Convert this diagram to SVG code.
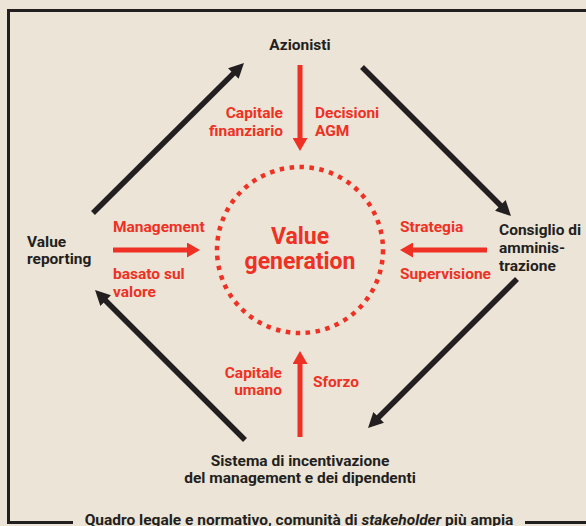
<svg xmlns="http://www.w3.org/2000/svg" width="586" height="526" viewBox="0 0 586 526">
<defs>
<style>
.bg{fill:#ece4d6}
.frame{fill:none;stroke:#231f20;stroke-width:3}
.blk{stroke:#231f20;stroke-width:5.5;fill:none;marker-end:url(#ah-b)}
.red{stroke:#ee3124;stroke-width:5;fill:none;marker-end:url(#ah-r)}
.t{font-family:Roboto,"Liberation Sans",sans-serif;font-weight:bold;font-size:15.5px;fill:#231f20}
.r{font-family:Roboto,"Liberation Sans",sans-serif;font-weight:bold;font-size:15.5px;fill:#ee3124}
.big{font-family:Roboto,"Liberation Sans",sans-serif;font-weight:bold;font-size:23px;fill:#ee3124}
</style>
<marker id="ah-b" viewBox="0 0 15 15" refX="7" refY="7.5" markerWidth="15" markerHeight="15" markerUnits="userSpaceOnUse" orient="auto"><path d="M0,0 L15,7.5 L0,15 z" fill="#231f20"/></marker>
<marker id="ah-r" viewBox="0 0 13 15" refX="5" refY="7.5" markerWidth="13" markerHeight="15" markerUnits="userSpaceOnUse" orient="auto"><path d="M0,0 L13,7.5 L0,15 z" fill="#ee3124"/></marker>
</defs>
<rect class="bg" x="0" y="0" width="586" height="526"/>
<g id="frame">
<path class="frame" d="M73,522.5 L8.5,522.5 L8.5,10.5 L590,10.5"/>
<path class="frame" d="M525,522.5 L590,522.5"/>
<text class="t" x="299" y="525" text-anchor="middle">Quadro legale e normativo, comunità di <tspan font-style="italic">stakeholder</tspan> più ampia</text>
</g>
<g id="connectors">
<line class="blk" x1="93" y1="213" x2="238.3" y2="68.6"/>
<line class="blk" x1="362" y1="67" x2="505.3" y2="210.3"/>
<line class="blk" x1="517" y1="279" x2="373.7" y2="422.3"/>
<line class="blk" x1="245" y1="440" x2="100.7" y2="295.7"/>
<line class="red" x1="300" y1="65" x2="300" y2="143"/>
<line class="red" x1="113" y1="250" x2="192" y2="250"/>
<line class="red" x1="487" y1="250" x2="408" y2="250"/>
<line class="red" x1="300" y1="437" x2="300" y2="359"/>
</g>
<g id="azionisti"><text class="t" x="300" y="50" text-anchor="middle">Azionisti</text></g>
<g id="consiglio"><text class="t" x="499" y="235">Consiglio di</text><text class="t" x="499" y="253">amminis-</text><text class="t" x="499" y="271">trazione</text></g>
<g id="sistema"><text class="t" x="300" y="466" text-anchor="middle">Sistema di incentivazione</text><text class="t" x="300" y="483" text-anchor="middle">del management e dei dipendenti</text></g>
<g id="reporting"><text class="t" x="27" y="247">Value</text><text class="t" x="27" y="264">reporting</text></g>
<g id="value-generation">
<circle cx="300" cy="250" r="83" fill="none" stroke="#ee3124" stroke-width="4.5" stroke-dasharray="4.5 5.5"/>
<text class="big" x="300" y="244" text-anchor="middle">Value</text>
<text class="big" x="300" y="269" text-anchor="middle">generation</text>
</g>
<g id="labels">
<text class="r" x="283" y="118" text-anchor="end">Capitale</text>
<text class="r" x="283" y="136" text-anchor="end">finanziario</text>
<text class="r" x="315" y="118">Decisioni</text>
<text class="r" x="315" y="136">AGM</text>
<text class="r" x="113" y="232">Management</text>
<text class="r" x="113" y="279">basato sul</text>
<text class="r" x="113" y="297">valore</text>
<text class="r" x="400" y="232">Strategia</text>
<text class="r" x="400" y="279">Supervisione</text>
<text class="r" x="282" y="378" text-anchor="end">Capitale</text>
<text class="r" x="282" y="395" text-anchor="end">umano</text>
<text class="r" x="313" y="387">Sforzo</text>
</g>
</svg>
